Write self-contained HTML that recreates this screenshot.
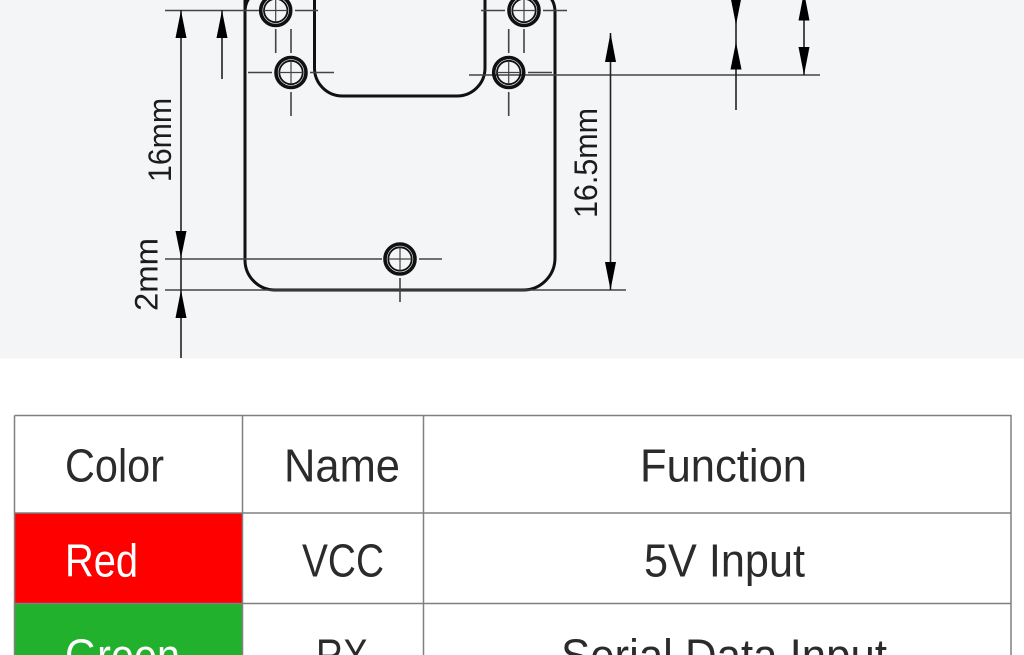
<!DOCTYPE html>
<html><head><meta charset="utf-8"><style>
html,body{margin:0;padding:0;background:#fff;width:1024px;height:655px;overflow:hidden}
svg{display:block}
text{font-family:"Liberation Sans",sans-serif}
.t{font-size:46px;fill:#2b2b2b}
.w{font-size:46px;fill:#fff}
.d{font-size:32px;fill:#1c1c1c}
</style></head><body>
<svg width="1024" height="655" viewBox="0 0 1024 655" xmlns="http://www.w3.org/2000/svg">
<rect width="1024" height="358.5" fill="#f4f5f7"/>
<!-- board -->
<path d="M245 -40V260A30 30 0 0 0 275 290H523A32 32 0 0 0 555 258V12Q555 2 549 -4M314.500 -40V68A28 28 0 0 0 342.500 96H457A28 28 0 0 0 485 68V-40M245 12Q245 2 251 -4" fill="none" stroke="#111" stroke-width="3"/>
<!-- thin lines -->
<g stroke="#444" stroke-width="1.600" fill="none">
<path d="M165 10.500H259M295 10.500H318M481 10.500H505M543 10.500H567"/>
<path d="M248 72.500H272M310 72.500H334M528 72.500H552"/>
<path d="M469 75H820"/>
<path d="M165 259H382M419 259H442M165 290H626"/>
<path d="M275.700 29V53M291 29V53M291 92V116M508.700 29V53M508.700 92V116M524 29V53M400 278V302"/>
</g>
<g stroke="#222" stroke-width="1.600" fill="none">
<path d="M181 10V358M222 10V79M610.500 33V290M736 0V110M804 0V75"/>
</g>
<!-- holes -->
<g fill="none" stroke="#111">
<circle cx="275.700" cy="10.500" r="15" stroke-width="3.600"/><circle cx="275.700" cy="10.500" r="11.700" stroke-width="1.800"/><path d="M275.700 -1V22M264 10.500H287.500" stroke="#444" stroke-width="1.200"/>
<circle cx="291" cy="72.500" r="15" stroke-width="3.600"/><circle cx="291" cy="72.500" r="11.700" stroke-width="1.800"/><path d="M291 61V84M279.500 72.500H302.500" stroke="#444" stroke-width="1.200"/>
<circle cx="508.700" cy="72.500" r="15" stroke-width="3.600"/><circle cx="508.700" cy="72.500" r="11.700" stroke-width="1.800"/><path d="M508.700 61V84M497 72.500H520" stroke="#444" stroke-width="1.200"/>
<circle cx="524" cy="10.500" r="15" stroke-width="3.600"/><circle cx="524" cy="10.500" r="11.700" stroke-width="1.800"/><path d="M524 -1V22M512.500 10.500H535.500" stroke="#444" stroke-width="1.200"/>
<circle cx="400" cy="259" r="15" stroke-width="3.600"/><circle cx="400" cy="259" r="11.700" stroke-width="1.800"/><path d="M400 247.500V270.500M388.500 259H411.500" stroke="#444" stroke-width="1.200"/>
</g>
<!-- arrowheads -->
<g fill="#000">
<path d="M181 10.500L186.500 38H175.500Z"/>
<path d="M222 10.500L227.500 38H216.500Z"/>
<path d="M181 258L175.500 231H186.500Z"/>
<path d="M181 290L186.500 318H175.500Z"/>
<path d="M610.500 33L616 62H605Z"/>
<path d="M610.500 290L605 262H616Z"/>
<path d="M736 25L730.500 -3H741.500Z"/>
<path d="M736 42L741.500 69.500H730.500Z"/>
<path d="M804 -8L809.500 20.500H798.500Z"/>
<path d="M804 75L798.500 47H809.500Z"/>
</g>
<!-- dimension labels -->
<text class="d" transform="translate(171,182) rotate(-90)" textLength="84" lengthAdjust="spacingAndGlyphs">16mm</text>
<text class="d" transform="translate(597,218) rotate(-90)" textLength="110" lengthAdjust="spacingAndGlyphs">16.5mm</text>
<text class="d" transform="translate(157.500,311) rotate(-90)" textLength="73" lengthAdjust="spacingAndGlyphs">2mm</text>
<!-- table -->
<rect x="14" y="513" width="228" height="91" fill="#fe0000"/>
<rect x="14" y="604" width="228" height="60" fill="#22b12c"/>
<g stroke="#808080" stroke-width="1.500" fill="none">
<path d="M14.500 415.500H1011V670M14.500 415.500V670M242.500 415.500V670M423.500 415.500V670M14.500 513H1011M14.500 603.500H1011"/>
</g>
<text class="t" x="65" y="481.500" textLength="99" lengthAdjust="spacingAndGlyphs">Color</text>
<text class="t" x="284" y="481.500" textLength="116" lengthAdjust="spacingAndGlyphs">Name</text>
<text class="t" x="640" y="481.500" textLength="167" lengthAdjust="spacingAndGlyphs">Function</text>
<text class="w" x="65" y="576.500" textLength="73" lengthAdjust="spacingAndGlyphs">Red</text>
<text class="t" x="302" y="576.500" textLength="82" lengthAdjust="spacingAndGlyphs">VCC</text>
<text class="t" x="644" y="576.500" textLength="161" lengthAdjust="spacingAndGlyphs">5V Input</text>
<text class="w" x="65" y="671.500" textLength="115" lengthAdjust="spacingAndGlyphs">Green</text>
<text class="t" x="316" y="671.500" textLength="52" lengthAdjust="spacingAndGlyphs">RX</text>
<text class="t" x="561" y="671.500" textLength="326" lengthAdjust="spacingAndGlyphs">Serial Data Input</text>
</svg>
</body></html>
